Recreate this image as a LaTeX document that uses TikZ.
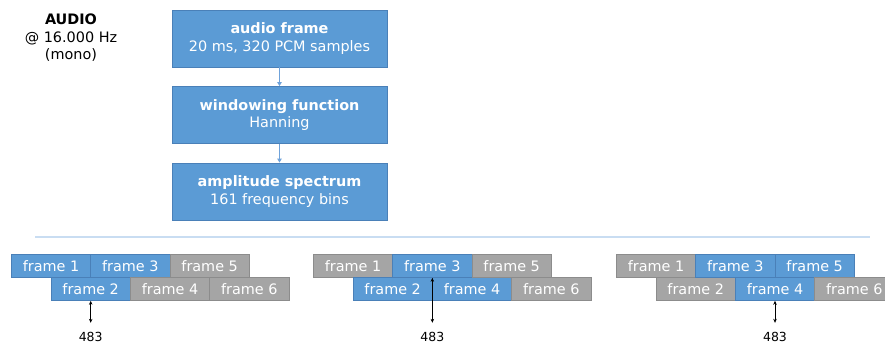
\documentclass[tikz,border=0pt]{standalone}
\usepackage{fontspec}
\setmainfont{DejaVu Sans}
\usetikzlibrary{arrows.meta}

\definecolor{boxblue}{HTML}{5B9BD5}
\definecolor{boxblueedge}{HTML}{4A80B8}
\definecolor{boxgray}{HTML}{A5A5A5}
\definecolor{boxgrayedge}{HTML}{8C8C8C}
\definecolor{linkblue}{HTML}{6FA2DA}
\definecolor{rulecolor}{HTML}{C9DDF2}

\tikzset{
  txt/.style={font=\fontsize{14.4}{17.5}\selectfont},
  stepbox/.style={txt, rectangle, fill=boxblue, draw=boxblueedge, line width=0.8pt,
    text=white, align=center, minimum width=215pt, minimum height=57pt, inner sep=0pt},
  link/.style={draw=linkblue, line width=0.8pt, -{Triangle[length=4pt,width=4.5pt]}},
  winbox/.style={font=\fontsize{14.4}{16}\selectfont, rectangle, line width=0.8pt, text=white,
    minimum width=79.3pt, minimum height=23pt, inner sep=0pt, anchor=north west},
  dimline/.style={draw=black, line width=0.6pt,
    {Stealth[length=4pt,width=3.5pt]}-{Stealth[length=4pt,width=3.5pt]}},
  hoplabel/.style={font=\fontsize{12.5}{14}\selectfont, inner sep=0pt}
}

% one row pair of six overlapping frames; three consecutive ones are highlighted
% #1 name prefix, #2 left edge, #3 first highlighted frame
\newcommand\hopframes[3]{%
  \foreach \k in {1,...,6}{%
    \pgfmathtruncatemacro\isblue{and(\k>=#3,\k<=#3+2)}%
    \ifnum\isblue=1 \def\fcol{boxblue}\def\ecol{boxblueedge}%
    \else \def\fcol{boxgray}\def\ecol{boxgrayedge}\fi
    \pgfmathsetmacro\fx{#2+(\k-1)*39.65}%
    \pgfmathtruncatemacro\odd{mod(\k,2)}%
    \ifnum\odd=1 \def\fy{254}\else\def\fy{277}\fi
    \node[winbox, fill=\fcol, draw=\ecol] (#1\k) at (\fx,\fy) {frame \k};
  }%
}

\begin{document}
\begin{tikzpicture}[x=1pt,y=-1pt]
\useasboundingbox (0,0) rectangle (885,343);
\clip (0,0) rectangle (885,343);

% source description
\node[txt, align=center] (audio) at (71,38) {\textbf{AUDIO}\\@ 16.000 Hz\\(mono)};

% processing chain
\node[stepbox] (frame) at (279.5,38.5) {\textbf{audio frame}\\20 ms, 320 PCM samples};
\node[stepbox] (window) at (279.5,115) {\textbf{windowing function}\\Hanning};
\node[stepbox] (spectrum) at (279.5,191.5) {\textbf{amplitude spectrum}\\161 frequency bins};
\draw[link] (frame) -- (window);
\draw[link] (window) -- (spectrum);

% separator
\draw[rulecolor, line width=1.2pt] (35,237) -- (870,237);

% sliding frames
\hopframes{ga}{11}{1}
\hopframes{gb}{313}{2}
\hopframes{gc}{616}{3}

% hop markers
\path (ga2.south) ++(0,22) coordinate (gaend) ++(0,14) node[hoplabel] (galab) {483};
\path (gb3.south) ++(0,45) coordinate (gbend) ++(0,14) node[hoplabel] (gblab) {483};
\path (gc4.south) ++(0,22) coordinate (gcend) ++(0,14) node[hoplabel] (gclab) {483};
\draw[dimline] (ga2.south) -- (gaend);
\draw[dimline] (gb3.south) -- (gbend);
\draw[dimline] (gc4.south) -- (gcend);
\end{tikzpicture}
\end{document}
